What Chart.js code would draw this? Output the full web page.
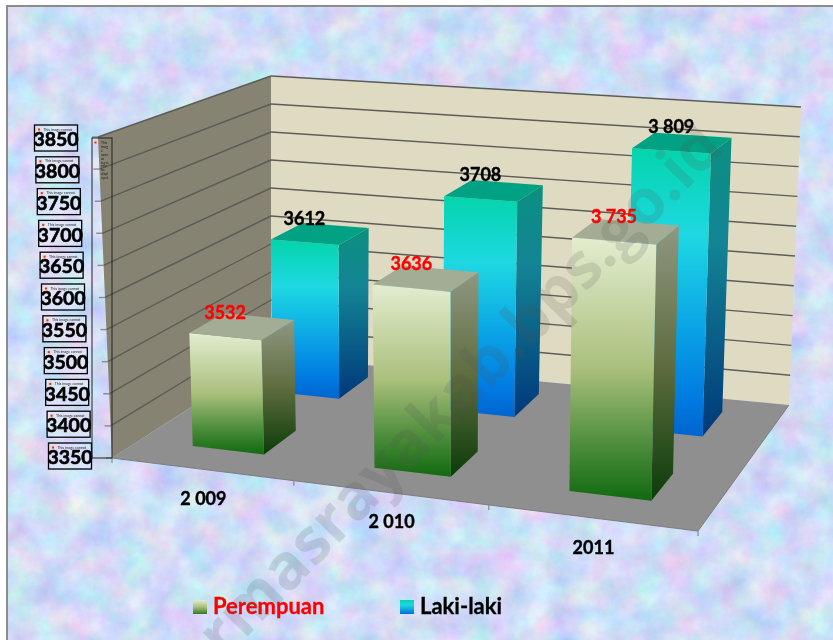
<!DOCTYPE html>
<html>
<head>
<meta charset="utf-8">
<title>Perempuan dan Laki-laki</title>
<script src="https://cdn.jsdelivr.net/npm/chart.js@4/dist/chart.umd.min.js"></script>
<style>
  html, body { margin: 0; padding: 0; background: #fff; overflow: hidden; }
  #bg { position: absolute; left: 6px; top: 5px; width: 840px; height: 650px; border: 2px solid #8c8c8c; box-sizing: border-box; overflow: hidden; }
  #bg svg { display: block; }
  canvas { position: absolute; left: 0; top: 0; }
</style>
</head>
<body>
<div id="bg">
  <svg width="840" height="650" xmlns="http://www.w3.org/2000/svg">
    <filter id="marble" x="0" y="0" width="100%" height="100%" color-interpolation-filters="sRGB">
      <feTurbulence type="fractalNoise" baseFrequency="0.035" numOctaves="5" seed="11"/>
      <feColorMatrix type="matrix" values="0.32 0 0 0 0.655  0 0.26 0 0 0.735  0 0 0.12 0 0.905  0 0 0 0 1"/>
    </filter>
    <rect width="840" height="650" filter="url(#marble)"/>
  </svg>
</div>
<canvas id="chart" width="833" height="640"></canvas>
<script>
const categories = ["2 009", "2 010", "2011"];
const perempuan = [3532, 3636, 3735];
const lakiLaki = [3612, 3708, 3809];
const perempuanLabels = ["3532", "3636", "3 735"];
const lakiLakiLabels = ["3612", "3708", "3 809"];
const yTicks = [3350, 3400, 3450, 3500, 3550, 3600, 3650, 3700, 3750, 3800, 3850];
const placeholderLines = ["This", "imag", "e", "cann", "ot", "curre", "ntly", "be", "displ", "ayed."];

const FONT = "Lato, 'Open Sans', sans-serif";

// corners of the 3d box on the picture, [front/back][bottom/top][left/right]
const box = {
  fbl: [112, 458], fbr: [698, 531], bbl: [271, 356], bbr: [789, 405],
  ftl: [98, 137], ftr: [706, 184], btl: [271, 76], btr: [801, 107],
};
const lerp = (a, b, t) => [a[0] + (b[0] - a[0]) * t, a[1] + (b[1] - a[1]) * t];
// right side of the box is nearer the viewer
const warp = (u) => u / (1 + 0.111 * (1 - u));

function corner(u, v, d) {
  const bottom = lerp(lerp(box.fbl, box.fbr, u), lerp(box.bbl, box.bbr, u), d);
  const top = lerp(lerp(box.ftl, box.ftr, u), lerp(box.btl, box.btr, u), d);
  return lerp(bottom, top, v);
}

// flat chart pixels -> picture
function project(chart, px, py, d) {
  const a = chart.chartArea;
  return corner(warp((px - a.left) / a.width), (a.bottom - py) / a.height, d);
}

function poly(ctx, pts, fill) {
  ctx.beginPath();
  pts.forEach((p, i) => (i ? ctx.lineTo(p[0], p[1]) : ctx.moveTo(p[0], p[1])));
  ctx.closePath();
  ctx.fillStyle = fill;
  ctx.fill();
}

function line(ctx, a, b, color, width) {
  ctx.beginPath();
  ctx.moveTo(a[0], a[1]);
  ctx.lineTo(b[0], b[1]);
  ctx.strokeStyle = color;
  ctx.lineWidth = width;
  ctx.stroke();
}

function grad(ctx, y0, y1, stops) {
  const g = ctx.createLinearGradient(0, y0, 0, y1);
  stops.forEach((s) => g.addColorStop(s[0], s[1]));
  return g;
}

// bold text, a bit heavier than the font gives by itself
function heavy(ctx, s, x, y, color, weight) {
  ctx.fillStyle = color;
  ctx.strokeStyle = color;
  ctx.lineWidth = weight;
  ctx.fillText(s, x, y);
  ctx.strokeText(s, x, y);
}

const faceStyles = [
  {
    front: [[0, "#e3edd0"], [0.5, "#a9bf7c"], [0.78, "#4f8e3c"], [1, "#116a10"]],
    side: [[0, "#8f9781"], [0.5, "#5f6d40"], [1, "#0b3c08"]],
    top: "#a3ad95",
    depth: [0.18, 0.4],
    text: "#ff0000",
  },
  {
    front: [[0, "#04d4ab"], [0.3, "#1ed8e2"], [0.62, "#0aa4e6"], [0.88, "#0079e0"], [1, "#0064cf"]],
    side: [[0, "#0b9080"], [0.35, "#138495"], [1, "#00387a"]],
    top: "#00a283",
    depth: [0.7, 0.9],
    text: "#000000",
  },
];

function drawBar(chart, bar, style) {
  const ctx = chart.ctx;
  const { x, y, base, width } = bar.getProps(["x", "y", "base", "width"], true);
  const l = x - width / 2;
  const r = x + width / 2;
  const top = y + 4; // bar tops sit a touch under their gridline in the original
  const [d0, d1] = style.depth;
  const ftl = project(chart, l, top, d0);
  const ftr = project(chart, r, top, d0);
  const fbl = project(chart, l, base, d0);
  const fbr = project(chart, r, base, d0);
  const btl = project(chart, l, top, d1);
  const btr = project(chart, r, top, d1);
  const bbr = project(chart, r, base, d1);
  poly(ctx, [ftr, btr, bbr, fbr], grad(ctx, btr[1], fbr[1], style.side));
  poly(ctx, [ftl, ftr, fbr, fbl], grad(ctx, ftl[1], fbr[1], style.front));
  poly(ctx, [ftl, btl, btr, ftr], style.top);
}

const box3d = {
  id: "box3d",
  beforeDatasetsDraw(chart) {
    const ctx = chart.ctx;
    const yScale = chart.scales.y;
    const a = chart.chartArea;

    // walls and floor
    poly(ctx, [box.ftl, box.btl, box.bbl, box.fbl], "#868372");
    poly(ctx, [box.btl, box.btr, box.bbr, box.bbl], "#dfdbc3");
    poly(ctx, [box.fbl, box.bbl, box.bbr, box.fbr], "#8f8f8f");
    line(ctx, box.fbl, box.fbr, "#7d7d7d", 1.2);
    line(ctx, box.fbr, box.bbr, "#7d7d7d", 1);

    // gridlines and ticks
    yTicks.forEach((t) => {
      const py = yScale.getPixelForValue(t);
      const p0 = project(chart, a.left, py, 0);
      const p1 = project(chart, a.left, py, 1);
      const p2 = project(chart, a.right, py, 1);
      if (t !== yTicks[0]) {
        line(ctx, p0, p1, "#5c5c58", 1.4);
        line(ctx, p1, p2, "#5c5c58", 1.4);
      }
      line(ctx, [p0[0] - 6, p0[1]], p0, "#8a8a8a", 1.4);
    });
    categories.forEach((c, i) => {
      const p = project(chart, a.left + (a.width * (i + 1)) / categories.length, a.bottom, 0);
      line(ctx, p, [p[0], p[1] + 5], "#8a8a8a", 1.2);
    });
    const p0 = project(chart, a.left, a.bottom, 0);
    line(ctx, p0, [p0[0], p0[1] + 5], "#8a8a8a", 1.2);

    // back row first so the front row covers it
    for (let i = 1; i >= 0; i--) {
      chart.getDatasetMeta(i).data.forEach((bar) => drawBar(chart, bar, faceStyles[i]));
    }
  },
  afterDatasetsDraw(chart) {
    const ctx = chart.ctx;
    const yScale = chart.scales.y;
    const xScale = chart.scales.x;
    const a = chart.chartArea;
    ctx.save();
    ctx.textAlign = "center";
    ctx.textBaseline = "middle";

    // value labels
    ctx.font = "bold 18px " + FONT;
    [perempuanLabels, lakiLakiLabels].forEach((labels, i) => {
      chart.getDatasetMeta(i).data.forEach((bar, j) => {
        const p = project(chart, bar.x, bar.y, faceStyles[i].depth[0]);
        heavy(ctx, labels[j], p[0], p[1] - 21.5, faceStyles[i].text, 0.4);
      });
    });

    // category labels
    categories.forEach((c, i) => {
      const p = project(chart, xScale.getPixelForTick(i), a.bottom, 0);
      heavy(ctx, c, p[0] + 2, p[1] + 30, "#000", 0.4);
    });

    // y labels, each sat in a broken picture box
    yTicks.forEach((t) => {
      const p = project(chart, a.left, yScale.getPixelForValue(t), 0);
      const bx = p[0] - 63.5;
      const by = p[1] - 15 + (t - yTicks[0]) * 0.006;
      ctx.fillStyle = "rgba(235,235,250,0.45)";
      ctx.fillRect(bx, by, 43, 26);
      ctx.strokeStyle = "#000";
      ctx.lineWidth = 1.3;
      ctx.strokeRect(bx, by, 43, 26);
      ctx.fillStyle = "#f4d4cc";
      ctx.fillRect(bx + 2.5, by + 2.5, 4, 4);
      ctx.fillStyle = "#e03020";
      ctx.fillRect(bx + 3.5, by + 3.5, 2, 2);
      ctx.fillStyle = "#222";
      ctx.textAlign = "left";
      ctx.font = "3.6px " + FONT;
      ctx.fillText("This image cannot", bx + 9, by + 4.5);
      ctx.textAlign = "center";
      ctx.font = "bold 19.5px " + FONT;
      heavy(ctx, String(t), bx + 21.5, by + 15, "#000", 0.6);
    });

    // tall placeholder next to the left wall
    ctx.strokeStyle = "#222";
    ctx.lineWidth = 1;
    ctx.strokeRect(92, 138, 20, 320);
    ctx.fillStyle = "#f4d4cc";
    ctx.fillRect(93.5, 140.5, 4, 4);
    ctx.fillStyle = "#e03020";
    ctx.fillRect(94.5, 141.5, 2, 2);
    ctx.fillStyle = "#222";
    ctx.textAlign = "left";
    ctx.font = "3.4px " + FONT;
    placeholderLines.forEach((s, i) => ctx.fillText(s, 101, 143 + i * 3.9));

    // legend
    const legendItems = [
      { sx: 193, tx: 213, color: "#ff0000", stops: [[0, "#e3edd0"], [0.5, "#a9bf7c"], [1, "#2f7a20"]] },
      { sx: 400, tx: 420, color: "#000000", stops: [[0, "#04d4ab"], [0.35, "#1ed8e2"], [1, "#0070dc"]] },
    ];
    legendItems.forEach((it, i) => {
      ctx.fillStyle = grad(ctx, 600, 614, it.stops);
      ctx.fillRect(it.sx, 600, 14, 14);
      ctx.font = "bold 22px " + FONT;
      heavy(ctx, chart.data.datasets[i].label, it.tx, 607, it.color, 0.3);
    });

    // site watermark
    ctx.translate(713, 137);
    ctx.rotate((-45.5 * Math.PI) / 180);
    ctx.textAlign = "right";
    ctx.font = "bold 63px 'Open Sans', sans-serif";
    ctx.fillStyle = "rgba(85,85,85,0.17)";
    ctx.fillText("dharmasrayakab.bps.go.id", 0, 0);
    ctx.restore();
  },
};

new Chart(document.getElementById("chart"), {
  type: "bar",
  plugins: [box3d],
  data: {
    labels: categories,
    datasets: [
      { label: "Perempuan", data: perempuan, base: yTicks[0], backgroundColor: "transparent" },
      { label: "Laki-laki", data: lakiLaki, base: yTicks[0], backgroundColor: "transparent" },
    ],
  },
  options: {
    responsive: false,
    animation: false,
    events: [],
    layout: { padding: 0 },
    datasets: { bar: { grouped: false, barPercentage: 0.4, categoryPercentage: 1 } },
    plugins: { legend: { display: false }, tooltip: { enabled: false } },
    scales: {
      x: { display: false },
      y: { display: false, min: 3350, max: 3850, ticks: { stepSize: 50 } },
    },
  },
});
</script>
</body>
</html>
